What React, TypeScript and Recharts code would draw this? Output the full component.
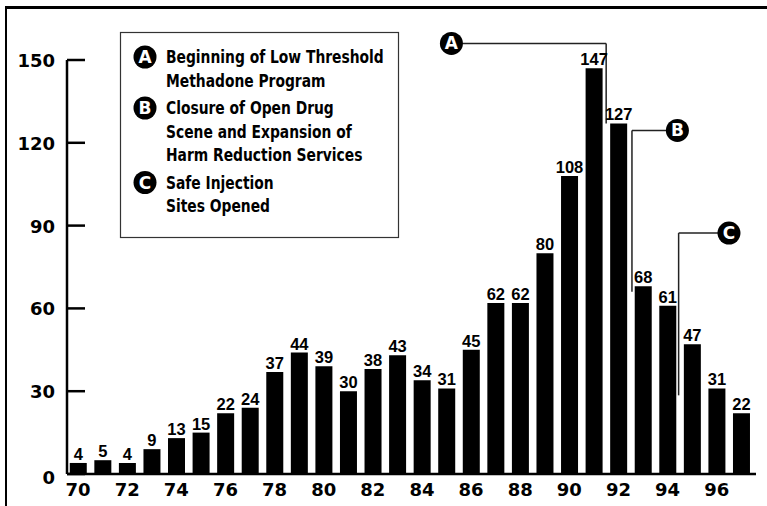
import React from "react";
import {
  Bar,
  BarChart,
  LabelList,
  ReferenceDot,
  ReferenceLine,
  XAxis,
  YAxis,
} from "recharts";

const years = [
  70, 71, 72, 73, 74, 75, 76, 77, 78, 79, 80, 81, 82, 83, 84, 85, 86, 87, 88,
  89, 90, 91, 92, 93, 94, 95, 96, 97,
];
const deaths = [
  4, 5, 4, 9, 13, 15, 22, 24, 37, 44, 39, 30, 38, 43, 34, 31, 45, 62, 62, 80,
  108, 147, 127, 68, 61, 47, 31, 22,
];
const yearTicks = [70, 72, 74, 76, 78, 80, 82, 84, 86, 88, 90, 92, 94, 96];
const valueTicks = [0, 30, 60, 90, 120, 150];

// events: where the marker sits, where the leader line drops, how low it goes
const events = [
  { id: "A", markX: 85.2, markY: 156, dropX: 91.5, dropTo: 127 },
  { id: "B", markX: 94.4, markY: 124.5, dropX: 92.55, dropTo: 66 },
  { id: "C", markX: 96.5, markY: 87.3, dropX: 94.45, dropTo: 28.5 },
];

const legendItems = [
  { id: "A", lines: ["Beginning of Low Threshold", "Methadone Program"] },
  {
    id: "B",
    lines: [
      "Closure of Open Drug",
      "Scene and Expansion of",
      "Harm Reduction Services",
    ],
  },
  { id: "C", lines: ["Safe Injection", "Sites Opened"] },
];

const data = years.map((year, i) => ({ year, deaths: deaths[i] }));

const axisFont = "'DejaVu Sans', sans-serif";
const labelFont = "'Liberation Sans', Arial, sans-serif";

function YTick(props: any) {
  const { x, y, payload } = props;
  const dy = payload.value === 0 ? 10 : 7;
  return (
    <g>
      <line x1={x + 12} x2={x + 30} y1={y} y2={y} stroke="#000" strokeWidth={2.5} />
      <text
        x={x}
        y={y + dy}
        textAnchor="end"
        fontFamily={axisFont}
        fontWeight={700}
        fontSize={18}
        fill="#000"
      >
        {payload.value}
      </text>
    </g>
  );
}

function Legend() {
  let lineY = 63.5;
  const rows: React.ReactNode[] = [];
  legendItems.forEach((item) => {
    rows.push(
      <g key={item.id}>
        <circle cx={145} cy={lineY - 6.5} r={11.5} fill="#000" />
        <text
          x={145}
          y={lineY - 0.3}
          textAnchor="middle"
          fill="#fff"
          fontFamily={axisFont}
          fontWeight={700}
          fontSize={17}
        >
          {item.id}
        </text>
        <g transform={`translate(166,0) scale(0.77,1)`}>
          {item.lines.map((t, j) => (
            <text
              key={j}
              x={0}
              y={lineY + j * 23.5}
              fontFamily={axisFont}
              fontWeight={700}
              fontSize={18}
              fill="#000"
            >
              {t}
            </text>
          ))}
        </g>
      </g>
    );
    lineY += (item.lines.length - 1) * 23.5 + 27.5;
  });
  return (
    <svg
      width={767}
      height={506}
      style={{ position: "absolute", left: 0, top: 0, pointerEvents: "none" }}
    >
      <rect x={120.5} y={32.5} width={278} height={205} fill="none" stroke="#333" strokeWidth={1.2} />
      {rows}
    </svg>
  );
}

export default function App() {
  return (
    <div
      style={{
        position: "absolute",
        left: 0,
        top: 0,
        width: 767,
        height: 506,
        background: "#fff",
        overflow: "hidden",
      }}
    >
      <div
        style={{
          position: "absolute",
          left: 5,
          top: 6,
          width: 770,
          height: 510,
          borderTop: "3px solid #000",
          borderLeft: "2px solid #000",
        }}
      />
      <div style={{ position: "absolute", left: 0, top: 0 }}>
        <BarChart
          width={767}
          height={506}
          data={data}
          margin={{ top: 60, right: 11, bottom: 0, left: 0 }}
        >
          <XAxis
            dataKey="year"
            type="number"
            domain={[69.55, 97.6]}
            allowDataOverflow
            ticks={yearTicks}
            interval={0}
            height={32}
            tickLine={false}
            tickMargin={3}
            axisLine={{ stroke: "#000", strokeWidth: 2.5 }}
            tick={{ fontFamily: axisFont, fontWeight: 700, fontSize: 18, fill: "#000" }}
          />
          <YAxis
            domain={[0, 150]}
            ticks={valueTicks}
            width={67}
            tickSize={0}
            tickMargin={12}
            tickLine={false}
            axisLine={{ stroke: "#000", strokeWidth: 2.5 }}
            tick={<YTick />}
          />
          <Bar dataKey="deaths" fill="#000" barSize={17} isAnimationActive={false}>
            <LabelList
              dataKey="deaths"
              position="top"
              offset={3}
              fill="#000"
              fontFamily={labelFont}
              fontWeight={700}
              fontSize={16.5}
            />
          </Bar>
          {events.map((e) => (
            <ReferenceLine
              key={e.id + "h"}
              segment={[
                { x: e.markX, y: e.markY },
                { x: e.dropX, y: e.markY },
              ]}
              stroke="#222"
              strokeWidth={1.5}
              ifOverflow="visible"
            />
          ))}
          {events.map((e) => (
            <ReferenceLine
              key={e.id + "v"}
              segment={[
                { x: e.dropX, y: e.markY },
                { x: e.dropX, y: e.dropTo },
              ]}
              stroke="#222"
              strokeWidth={1.5}
              ifOverflow="visible"
            />
          ))}
          {events.map((e) => (
            <ReferenceDot
              key={e.id}
              x={e.markX}
              y={e.markY}
              r={11.5}
              fill="#000"
              stroke="none"
              ifOverflow="visible"
              label={{
                value: e.id,
                position: "center",
                fill: "#fff",
                fontFamily: axisFont,
                fontWeight: 700,
                fontSize: 17,
              }}
            />
          ))}
        </BarChart>
      </div>
      <Legend />
    </div>
  );
}
